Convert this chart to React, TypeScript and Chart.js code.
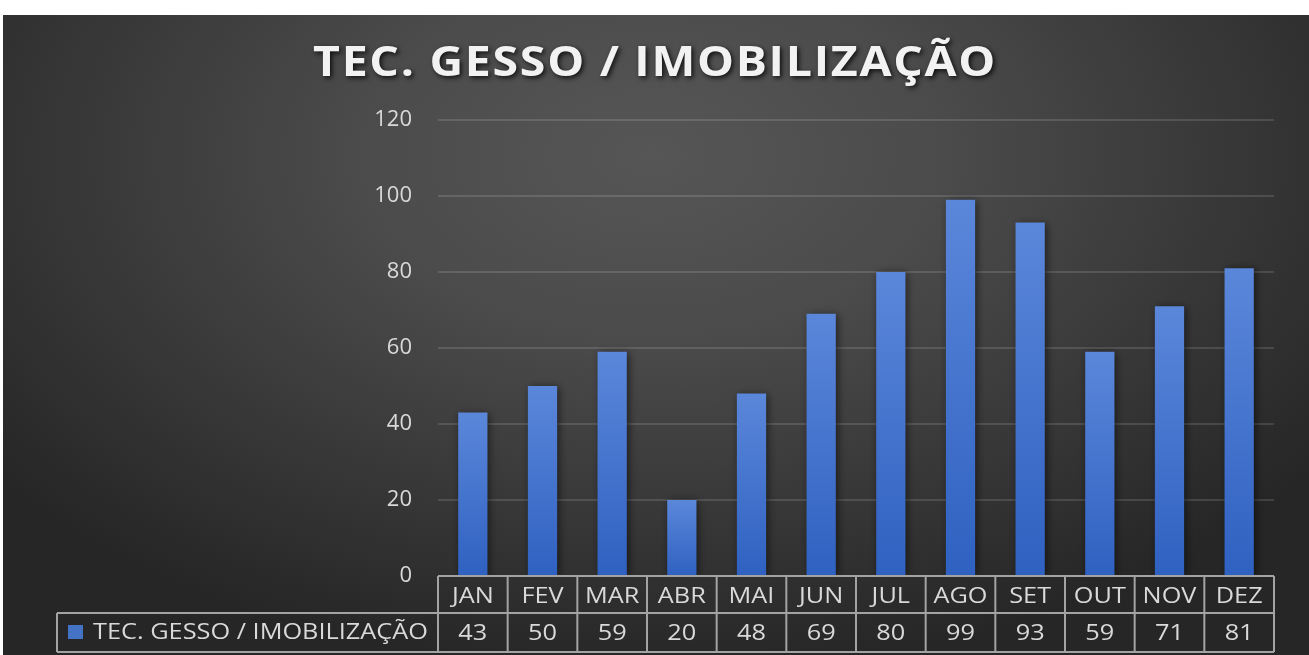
import React, { useEffect, useRef } from "react";
import { Chart, registerables } from "chart.js";

Chart.register(...registerables);

const TITLE = "TEC. GESSO / IMOBILIZAÇÃO";
const SERIES_NAME = "TEC. GESSO / IMOBILIZAÇÃO";
const MONTHS = ["JAN", "FEV", "MAR", "ABR", "MAI", "JUN", "JUL", "AGO", "SET", "OUT", "NOV", "DEZ"];
const VALUES = [43, 50, 59, 20, 48, 69, 80, 99, 93, 59, 71, 81];
const Y_MIN = 0;
const Y_MAX = 120;
const Y_STEP = 20;

const FONT = "'Open Sans', 'DejaVu Sans', sans-serif";
const TEXT = "#d9d9d9";
const TABLE_LINE = "#a3a3a3";

const W = 1306;
const H = 640;

// draws text horizontally stretched by sx, anchored by align
function stretchedText(ctx: any, text: string, x: number, y: number, sx: number, align: "left" | "center") {
  ctx.save();
  ctx.translate(x, y);
  ctx.scale(sx, 1);
  ctx.textAlign = align;
  ctx.fillText(text, 0, 0);
  ctx.restore();
}

const backgroundPlugin = {
  id: "bgPlugin",
  beforeDraw(chart: any) {
    const ctx = chart.ctx;
    ctx.save();
    ctx.translate(647, 140);
    ctx.scale(1.6, 1);
    const g = ctx.createRadialGradient(0, 0, 0, 0, 0, 520);
    g.addColorStop(0, "#565656");
    g.addColorStop(0.35, "#4b4b4b");
    g.addColorStop(1, "#262626");
    ctx.fillStyle = g;
    ctx.fillRect(-1000, -1000, 2000, 2000);
    ctx.restore();

    // title
    ctx.save();
    ctx.font = `bold 41px ${FONT}`;
    (ctx as any).letterSpacing = "1.5px";
    ctx.textBaseline = "alphabetic";
    const m = ctx.measureText(TITLE).width;
    const sx = 684 / m;
    ctx.shadowColor = "rgba(0,0,0,0.8)";
    ctx.shadowBlur = 5;
    ctx.shadowOffsetX = 2;
    ctx.shadowOffsetY = 2;
    ctx.fillStyle = "#f2f2f2";
    stretchedText(ctx, TITLE, 310, 61, sx, "left");
    ctx.restore();
  },
  beforeDatasetsDraw(chart: any) {
    const ctx = chart.ctx;
    ctx.save();
    ctx.shadowColor = "rgba(0,0,0,0.55)";
    ctx.shadowBlur = 8;
    ctx.shadowOffsetX = 2;
    ctx.shadowOffsetY = 1;
  },
  afterDatasetsDraw(chart: any) {
    chart.ctx.restore();
  },
};

const tablePlugin = {
  id: "tablePlugin",
  afterDraw(chart: any) {
    const ctx = chart.ctx;
    const xs = chart.scales.x;
    const area = chart.chartArea;
    const n = MONTHS.length;
    const top = area.bottom;
    const mid = top + 37;
    const bottom = top + 76;
    const legendLeft = 54;
    const bounds: number[] = [area.left];
    for (let i = 0; i < n - 1; i++) {
      bounds.push((xs.getPixelForValue(i) + xs.getPixelForValue(i + 1)) / 2);
    }
    bounds.push(area.right);

    ctx.save();
    ctx.strokeStyle = TABLE_LINE;
    ctx.lineWidth = 2;
    ctx.beginPath();
    ctx.moveTo(area.left, top);
    ctx.lineTo(area.right, top);
    ctx.moveTo(legendLeft, mid);
    ctx.lineTo(area.right, mid);
    ctx.moveTo(legendLeft, bottom);
    ctx.lineTo(area.right, bottom);
    ctx.moveTo(legendLeft, mid);
    ctx.lineTo(legendLeft, bottom);
    for (const b of bounds) {
      ctx.moveTo(b, top);
      ctx.lineTo(b, bottom);
    }
    ctx.stroke();

    ctx.fillStyle = TEXT;
    ctx.font = `22px ${FONT}`;
    ctx.textBaseline = "alphabetic";
    const legendW = ctx.measureText(SERIES_NAME).width;
    const sx = 335 / legendW;
    for (let i = 0; i < n; i++) {
      const cx = xs.getPixelForValue(i);
      stretchedText(ctx, MONTHS[i], cx, top + 27, Math.min(sx, 1.15), "center");
      stretchedText(ctx, String(VALUES[i]), cx, mid + 27, sx, "center");
    }

    // legend key
    ctx.fillStyle = "#4472c4";
    ctx.fillRect(legendLeft + 11, mid + 12, 15, 14);
    ctx.fillStyle = TEXT;
    stretchedText(ctx, SERIES_NAME, legendLeft + 36, mid + 26, sx, "left");
    ctx.restore();
  },
};

function barFill(c: any) {
  const chart = c.chart;
  const ys = chart.scales && chart.scales.y;
  if (!ys || c.raw === undefined) return "#4472c4";
  const yTop = ys.getPixelForValue(c.raw);
  const yBase = ys.getPixelForValue(0);
  if (!isFinite(yTop) || !isFinite(yBase) || yTop === yBase) return "#4472c4";
  const g = chart.ctx.createLinearGradient(0, yTop, 0, yBase);
  g.addColorStop(0, "#5b87da");
  g.addColorStop(1, "#2f61c1");
  return g;
}

export default function App() {
  const ref = useRef<HTMLCanvasElement | null>(null);

  useEffect(() => {
    document.body.style.margin = "0";
    document.body.style.background = "#ffffff";
    if (!ref.current) return;
    const chart = new Chart(ref.current, {
      type: "bar",
      data: {
        labels: MONTHS,
        datasets: [
          {
            label: SERIES_NAME,
            data: VALUES,
            backgroundColor: barFill as any,
            borderWidth: 0,
            barPercentage: 0.42,
            categoryPercentage: 1,
          },
        ],
      },
      options: {
        responsive: false,
        animation: false,
        layout: { padding: { top: 105, right: 35, bottom: 79, left: 0 } },
        plugins: {
          legend: { display: false },
          title: { display: false },
          tooltip: { enabled: false },
        },
        scales: {
          x: { display: false },
          y: {
            min: Y_MIN,
            max: Y_MAX,
            ticks: {
              stepSize: Y_STEP,
              color: TEXT,
              padding: 26,
              font: { family: FONT, size: 22 },
            },
            grid: {
              color: "rgba(255,255,255,0.13)",
              lineWidth: 2,
              drawTicks: false,
            },
            border: { display: false },
            afterFit(scale: any) {
              scale.width = 435;
            },
          },
        },
      },
      plugins: [backgroundPlugin, tablePlugin],
    });
    return () => chart.destroy();
  }, []);

  return (
    <div style={{ position: "absolute", left: 3, top: 15, width: W, height: H }}>
      <canvas ref={ref} width={W} height={H} style={{ display: "block", width: W, height: H }} />
    </div>
  );
}
